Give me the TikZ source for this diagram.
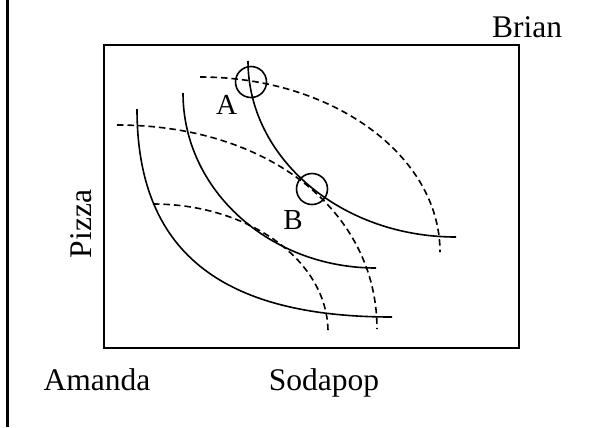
\documentclass[tikz,border=0pt]{standalone}
\usepackage{fontspec}
\setmainfont{Liberation Serif}
\usetikzlibrary{positioning}

\begin{document}
\begin{tikzpicture}[
  x=1bp, y=-1bp,
  amanda/.style={line width=1.6bp},
  brian/.style={line width=1.6bp, dash pattern=on 6.5bp off 4bp},
  spot/.style={circle, draw, line width=1.6bp, minimum size=31bp, inner sep=0pt},
  who/.style={font=\fontsize{31.5bp}{36bp}\selectfont, inner sep=0pt, anchor=base},
  pnt/.style={font=\fontsize{29bp}{34bp}\selectfont, inner sep=0pt, anchor=base}
]
\useasboundingbox (0,0) rectangle (612,427);

% left rule and the box
\draw[line width=2.2bp] (7.5,0) -- (7.5,427);
\draw[line width=2bp] (104,45) rectangle (519,348);

% axis names
\node[who] (brian) at (527,37) {Brian};
\node[who] (amanda) at (97,390) {Amanda};
\node[who] (soda) at (324,390) {Sodapop};
\node[who, rotate=90] (pizza) at (91.5,224) {Pizza};

% Amanda's curves
\draw[amanda] (137,109) .. controls (137,250) and (219,317) .. (392,317);
\draw[amanda] (183,93) .. controls (183,190) and (269.5,268) .. (376,268);
\draw[amanda] (248,61) .. controls (248,158) and (341,237) .. (456,237);

% Brian's curves
\draw[brian] (153,204) .. controls (249.6,204) and (328,261.3) .. (328,332);
\draw[brian] (117,125) .. controls (268,125) and (377,210.7) .. (377,329);
\draw[brian] (200,77) .. controls (332.5,77) and (440,155.4) .. (440,252);

% the two points
\node[spot] (ptA) at (251,82) {};
\node[spot] (ptB) at (312,189) {};
\node[pnt] (labA) at (226.7,114) {A};
\node[pnt] (labB) at (293,229.3) {B};
\end{tikzpicture}
\end{document}
